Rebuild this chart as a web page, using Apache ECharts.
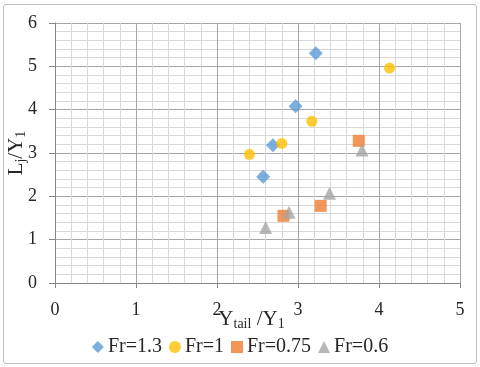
<!DOCTYPE html>
<html>
<head>
<meta charset="utf-8">
<script src="https://cdn.jsdelivr.net/npm/echarts@6/dist/echarts.min.js"></script>
<style>
  html, body { margin: 0; padding: 0; background: #fff; }
  #frame {
    position: absolute; left: 3px; top: 4px; width: 472px; height: 358px;
    border: 1px solid #bfbfbf; border-radius: 3px;
  }
  #chart { position: absolute; left: 0; top: 0; width: 480px; height: 367px; }
</style>
</head>
<body>
<div id="frame"></div>
<div id="chart"></div>
<script>
// ------------------------------------------------------------------
// data (x = Ytail/Y1, y = Lj/Y1)
// ------------------------------------------------------------------
const seriesNames = ['Fr=1.3', 'Fr=1', 'Fr=0.75', 'Fr=0.6']
const fr13 = [[3.22, 5.30], [2.97, 4.08], [2.69, 3.18], [2.57, 2.45]]
const fr1 = [[4.13, 4.96], [3.17, 3.73], [2.80, 3.22], [2.40, 2.97]]
const fr075 = [[3.75, 3.28], [3.28, 1.78], [2.82, 1.55]]
const fr06 = [[3.79, 3.07], [3.39, 2.07], [2.89, 1.63], [2.60, 1.28]]

const colors = ['#5b9bd5', '#ffc000', '#ed7d31', '#a5a5a5']
const symbols = ['diamond', 'circle', 'rect', 'triangle']
const sizes = [14, 11, 12, 13]
const allData = [fr13, fr1, fr075, fr06]

const font = 'Liberation Serif, Times New Roman, serif'

// rich styles for axis names with subscripts
const nameRich = {
  m: { fontFamily: font, fontSize: 21, color: '#262626', lineHeight: 24 },
  s: { fontFamily: font, fontSize: 14, color: '#262626', lineHeight: 10, verticalAlign: 'bottom' },
}

const chart = echarts.init(document.getElementById('chart'))

chart.setOption({
  animation: false,
  textStyle: { fontFamily: font },
  grid: { left: 55, right: 20, top: 23, bottom: 84, outerBoundsMode: 'none', containLabel: false },
  legend: {
    top: 332,
    left: 'center',
    itemWidth: 12,
    itemHeight: 12,
    itemGap: 7,
    textStyle: { fontFamily: font, fontSize: 20, color: '#262626', padding: [0, 0, 0, -1] },
    data: seriesNames.map((n, i) => ({ name: n, icon: symbols[i] })),
  },
  xAxis: {
    type: 'value',
    min: 0,
    max: 5,
    interval: 1,
    name: '{m|Y}{s|tail}{m| /Y}{s|1}',
    nameLocation: 'middle',
    nameGap: 24,
    nameMoveOverlap: false,
    nameTextStyle: { color: '#262626', rich: nameRich, padding: [0, 12, 0, 0] },
    axisLine: { show: true, onZero: false, lineStyle: { color: '#868686' } },
    axisTick: { show: true, length: 5, lineStyle: { color: '#868686' } },
    axisLabel: { color: '#262626', fontSize: 18, margin: 18 },
    splitLine: { show: true, lineStyle: { color: '#a6a6a6' } },
    minorTick: { show: false, splitNumber: 5 },
    minorSplitLine: { show: true, lineStyle: { color: '#d9d9d9' } },
  },
  yAxis: {
    type: 'value',
    min: 0,
    max: 6,
    interval: 1,
    name: '{m|L}{s|j}{m|/Y}{s|1}',
    nameLocation: 'middle',
    nameRotate: 90,
    nameGap: 27,
    nameMoveOverlap: false,
    nameTextStyle: { color: '#262626', rich: nameRich },
    axisLine: { show: true, onZero: false, lineStyle: { color: '#868686' } },
    axisTick: { show: true, length: 6, lineStyle: { color: '#868686' } },
    axisLabel: { color: '#262626', fontSize: 18, margin: 18 },
    splitLine: { show: true, lineStyle: { color: '#a6a6a6' } },
    minorTick: { show: false, splitNumber: 5 },
    minorSplitLine: { show: true, lineStyle: { color: '#d9d9d9' } },
  },
  series: allData.map((d, i) => ({
    name: seriesNames[i],
    type: 'scatter',
    data: d,
    symbol: symbols[i],
    symbolSize: sizes[i],
    itemStyle: { color: colors[i] },
  })),
})
</script>
</body>
</html>
